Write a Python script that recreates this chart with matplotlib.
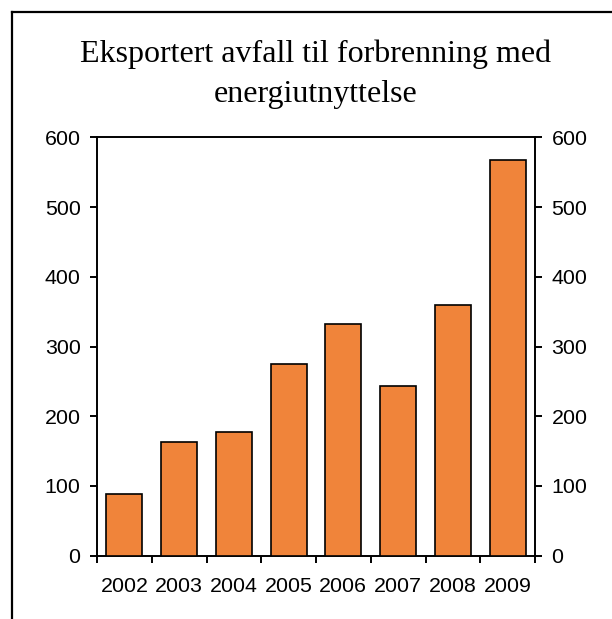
import matplotlib.pyplot as plt
from matplotlib.lines import Line2D

years = ["2002", "2003", "2004", "2005", "2006", "2007", "2008", "2009"]
tonnes = [88, 163, 177, 275, 332, 243, 359, 568]
y_ticks = [0, 100, 200, 300, 400, 500, 600]

title_lines = ["Eksportert avfall til forbrenning med", "energiutnyttelse"]

plt.rcParams["font.family"] = "Liberation Sans"

fig = plt.figure(figsize=(6.12, 6.19), dpi=100)
W, H = 612, 619

# axes placed by pixel measurements of the reference
ax = fig.add_axes([97 / W, 1 - 555.7 / H, (535 - 97) / W, (555.7 - 137.3) / H])

x = list(range(len(years)))
ax.bar(x, tonnes, width=0.66, color="#F0843A", edgecolor="black", linewidth=1.2, zorder=3)

ax.set_xlim(-0.5, len(years) - 0.5)
ax.set_ylim(0, 600)
ax.set_yticks(y_ticks)

# year labels in the middle, tick marks between the bars
ax.set_xticks(x)
ax.set_xticklabels(years)
ax.set_xticks([i - 0.5 for i in range(len(years) + 1)], minor=True)
ax.tick_params(axis="x", which="major", length=0, pad=15, labelsize=15.4)
ax.tick_params(axis="x", which="minor", length=4.8, width=1.4, direction="out")
ax.tick_params(axis="y", which="major", length=4.8, width=1.4, direction="out",
               left=True, right=True, labelleft=True, labelright=True,
               pad=7, labelsize=15.4)

for sp in ax.spines.values():
    sp.set_linewidth(1.4)

# title, two centred lines in serif
cx = (97 + 535) / 2 / W
fig.text(cx, 1 - 61.7 / H, title_lines[0], ha="center", va="baseline",
         fontsize=23, family="Liberation Serif")
fig.text(cx, 1 - 102 / H, title_lines[1], ha="center", va="baseline",
         fontsize=23, family="Liberation Serif")

# frame cut off on the right and bottom
fig.add_artist(Line2D([11.5 / W, 11.5 / W], [0, 1 - 11.5 / H], color="black", linewidth=1.6))
fig.add_artist(Line2D([11.5 / W, 1], [1 - 11.5 / H, 1 - 11.5 / H], color="black", linewidth=1.6))

fig.savefig("out.png", dpi=100)
